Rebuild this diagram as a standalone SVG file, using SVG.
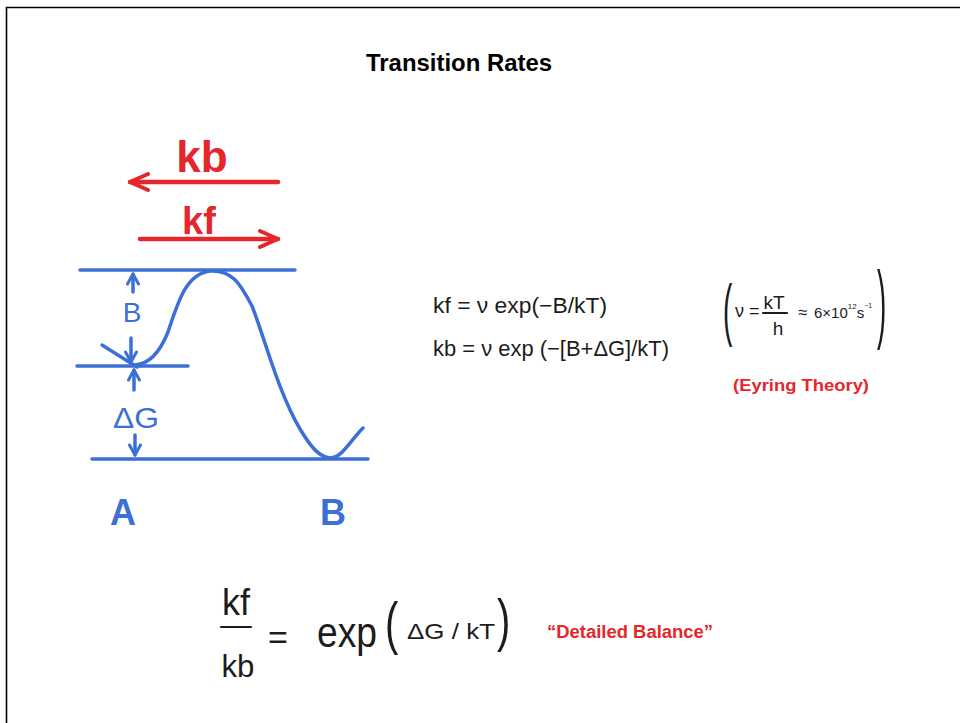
<svg xmlns="http://www.w3.org/2000/svg" width="960" height="723" viewBox="0 0 960 723">
<style>
.hand{font-family:"Liberation Sans",Arial,sans-serif;fill:#1c1c1c}
.blue{font-family:"Liberation Sans",Arial,sans-serif;fill:#3d70d6}
.red{font-family:"Liberation Sans",Arial,sans-serif;fill:#e5262b;font-weight:bold}
.slide{font-family:"Liberation Sans",Arial,sans-serif;font-weight:bold}
.bl{stroke:#3d70d6;stroke-width:3.5;fill:none;stroke-linecap:round;stroke-linejoin:round}
.rl{stroke:#e5262b;stroke-width:4.5;fill:none;stroke-linecap:round}
.ink{stroke:#1c1c1c;stroke-width:2.2;fill:none;stroke-linecap:round}
</style>
<defs>
<marker id="redHead" markerUnits="userSpaceOnUse" viewBox="0 0 22 20" refX="20" refY="10" markerWidth="22" markerHeight="20" orient="auto">
<path d="M2,2 L20,10 L2,18" fill="none" stroke="#e5262b" stroke-width="4" stroke-linecap="round" stroke-linejoin="round"/>
</marker>
<marker id="blueHead" markerUnits="userSpaceOnUse" viewBox="0 0 14 14" refX="12" refY="7" markerWidth="14" markerHeight="14" orient="auto">
<path d="M2,1.5 L12,7 L2,12.5" fill="none" stroke="#3d70d6" stroke-width="3" stroke-linecap="round" stroke-linejoin="round"/>
</marker>
</defs>
<rect width="960" height="723" fill="#ffffff"/>
<path d="M6.5,723 V7.5 H960" fill="none" stroke="#000" stroke-width="1.6"/>

<g id="title">
<text class="slide" x="459" y="71" font-size="23" text-anchor="middle" textLength="186" lengthAdjust="spacingAndGlyphs">Transition Rates</text>
</g>

<g id="energy-diagram">
<path class="bl" d="M80,270 H295"/>
<path class="bl" d="M77,366 H188"/>
<path class="bl" d="M92,459 H368"/>
<path class="bl" d="M102,345 L137,367"/>
<path class="bl" d="M135,365 C150,364 160,352 168,332 C178,302 186,274 210,271 C232,270 240,283 252,306 C264,336 278,392 300,429 C312,449 320,457 330,458 C342,458 350,441 363,428"/>
</g>

<g id="labels">
<text class="blue" x="132" y="322" font-size="28" text-anchor="middle">B</text>
<text class="blue" x="136" y="428" font-size="30" text-anchor="middle" textLength="46" lengthAdjust="spacingAndGlyphs">ΔG</text>
<text class="blue" x="123" y="525" font-size="36" font-weight="bold" text-anchor="middle">A</text>
<text class="blue" x="333" y="525" font-size="36" font-weight="bold" text-anchor="middle">B</text>
<text class="red" x="202" y="172" font-size="44" text-anchor="middle">kb</text>
<text class="red" x="199" y="234" font-size="38" text-anchor="middle">kf</text>
</g>

<g id="connectors">
<path class="rl" d="M278,182 H130" marker-end="url(#redHead)"/>
<path class="rl" d="M140,239 H278" marker-end="url(#redHead)"/>
<path class="bl" d="M133,292 V274" marker-end="url(#blueHead)"/>
<path class="bl" d="M131,338 V362" marker-end="url(#blueHead)"/>
<path class="bl" d="M134,390 V370" marker-end="url(#blueHead)"/>
<path class="bl" d="M135,435 V455" marker-end="url(#blueHead)"/>
</g>

<g id="rate-equations">
<text class="hand" x="433" y="313" font-size="22" textLength="174" lengthAdjust="spacingAndGlyphs">kf = ν exp(−B/kT)</text>
<text class="hand" x="433" y="356" font-size="22" textLength="236" lengthAdjust="spacingAndGlyphs">kb = ν exp (−[B+ΔG]/kT)</text>
</g>

<g id="eyring-frequency">
<text class="hand" font-size="40" transform="translate(723,333) scale(0.7,1.73)">(</text>
<text class="hand" font-size="40" transform="translate(877,332) scale(0.7,2.2)">)</text>
<text class="hand" x="735" y="317" font-size="18">ν =</text>
<text class="hand" x="774" y="309" font-size="19" text-anchor="middle">kT</text>
<path class="ink" d="M763,313 H787" stroke-width="1.8"/>
<text class="hand" x="778" y="335" font-size="19" text-anchor="middle">h</text>
<text class="hand" x="798" y="318" font-size="17">≈</text>
<text class="hand" x="814" y="318" font-size="15">6×10<tspan font-size="8" dy="-9">12</tspan><tspan dy="9">s</tspan><tspan font-size="7" dy="-10">−1</tspan></text>
</g>

<g id="eyring-label">
<text class="red" x="733" y="391" font-size="17" textLength="136" lengthAdjust="spacingAndGlyphs">(Eyring Theory)</text>
</g>

<g id="detailed-balance-equation">
<text class="hand" x="236" y="615" font-size="36" text-anchor="middle" textLength="28" lengthAdjust="spacingAndGlyphs">kf</text>
<path class="ink" d="M221,627 H251"/>
<text class="hand" x="238" y="677" font-size="32" text-anchor="middle" textLength="33" lengthAdjust="spacingAndGlyphs">kb</text>
<text class="hand" x="268" y="649" font-size="34">=</text>
<text class="hand" x="317" y="647" font-size="42" textLength="60" lengthAdjust="spacingAndGlyphs">exp</text>
<text class="hand" font-size="40" transform="translate(385,643) scale(1,1.45)">(</text>
<text class="hand" x="407" y="639" font-size="22" textLength="88" lengthAdjust="spacingAndGlyphs">ΔG / kT</text>
<text class="hand" font-size="40" transform="translate(497,640) scale(1,1.45)">)</text>
</g>

<g id="detailed-balance-label">
<text class="red" x="547" y="638" font-size="18" textLength="166" lengthAdjust="spacingAndGlyphs">“Detailed Balance”</text>
</g>
</svg>
